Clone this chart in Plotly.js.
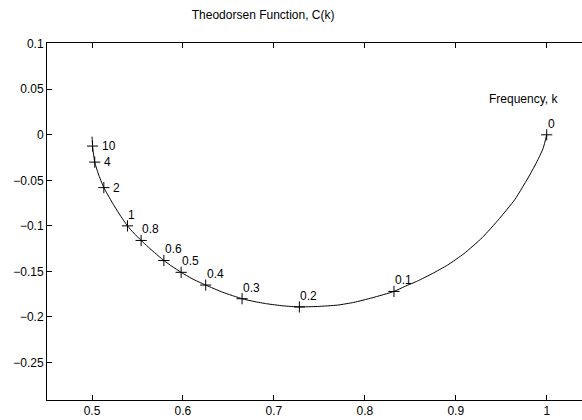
<!DOCTYPE html>
<html>
<head>
<meta charset="utf-8">
<script src="https://cdn.plot.ly/plotly-3.0.1.min.js"></script>
<style>html,body{margin:0;padding:0;background:#fff;}#chart{width:582px;height:420px;}</style>
</head>
<body>
<div id="chart"></div>
<script>
// Curve of C(k) = F + iG
var curveF = [1.0, 0.998, 0.996, 0.991, 0.982, 0.965, 0.948, 0.929, 0.909, 0.891, 0.874, 0.858, 0.844, 0.832,
  0.808, 0.788, 0.770, 0.748, 0.728, 0.710, 0.692, 0.678, 0.665, 0.644, 0.625, 0.610,
  0.598, 0.588, 0.579, 0.566, 0.554, 0.546, 0.539, 0.530, 0.522, 0.513, 0.507, 0.503, 0.5015,
  0.5006, 0.5002, 0.5];
var curveG = [0.0, -0.008, -0.015, -0.026, -0.043, -0.071, -0.092, -0.113, -0.1305, -0.143, -0.1525, -0.1605, -0.1665, -0.172,
  -0.179, -0.184, -0.187, -0.1885, -0.189, -0.1878, -0.1855, -0.183, -0.180, -0.173, -0.165, -0.158,
  -0.151, -0.1445, -0.138, -0.127, -0.116, -0.108, -0.100, -0.087, -0.074, -0.058, -0.043, -0.030, -0.020,
  -0.0124, -0.005, -0.002];

// Marked reduced frequencies
var kLabels = ['0', '0.1', '0.2', '0.3', '0.4', '0.5', '0.6', '0.8', '1', '2', '4', '10'];
var markF = [1.0, 0.832, 0.728, 0.665, 0.625, 0.598, 0.579, 0.554, 0.539, 0.513, 0.503, 0.5006];
var markG = [0.0, -0.172, -0.189, -0.180, -0.165, -0.151, -0.138, -0.116, -0.100, -0.058, -0.030, -0.0124];
var sideLabels = ['2', '4', '10'];

var xTicks = [0.5, 0.6, 0.7, 0.8, 0.9, 1];
var xTickText = ['0.5', '0.6', '0.7', '0.8', '0.9', '1'];
var yTicks = [0.1, 0.05, 0, -0.05, -0.1, -0.15, -0.2, -0.25];
var yTickText = ['0.1', '0.05', '0', '\u22120.05', '\u22120.1', '\u22120.15', '\u22120.2', '\u22120.25'];

var FONT = 'Liberation Sans, Arial, Helvetica, sans-serif';

var traces = [
  {x: curveF, y: curveG, type: 'scatter', mode: 'lines',
   line: {color: '#000', width: 1, shape: 'spline', smoothing: 0.5}, hoverinfo: 'skip'},
  {x: markF, y: markG, type: 'scatter', mode: 'markers',
   marker: {symbol: 'cross-thin', size: 8, color: '#000', line: {color: '#000', width: 1}}}
];

var annotations = kLabels.map(function (t, i) {
  var side = sideLabels.indexOf(t) >= 0;
  return {
    x: markF[i], y: markG[i], xref: 'x', yref: 'y', text: t, showarrow: false,
    xanchor: 'left', yanchor: side ? 'middle' : 'bottom',
    xshift: side ? 8 : 0, yshift: side ? 0 : 3, borderpad: 0,
    font: {family: FONT, size: 12, color: '#000'}
  };
});
annotations.push({
  x: 0.974, y: 0.039, xref: 'x', yref: 'y', text: 'Frequency, k', showarrow: false,
  xanchor: 'center', yanchor: 'middle', borderpad: 0,
  font: {family: FONT, size: 12, color: '#000'}
});

var layout = {
  width: 582, height: 420,
  margin: {l: 46.7, r: 0, t: 43.3, b: 20, pad: 0},
  paper_bgcolor: '#fff', plot_bgcolor: '#fff',
  showlegend: false,
  font: {family: FONT, size: 12, color: '#000'},
  title: {text: 'Theodorsen Function, C(k)', font: {family: FONT, size: 12, color: '#000'},
          x: 0.404, xref: 'paper', xanchor: 'center', y: 0.964, yref: 'container', yanchor: 'middle'},
  xaxis: {range: [0.4505, 1.0388], tickvals: xTicks, ticktext: xTickText,
          showgrid: false, zeroline: false, showline: true, linecolor: '#000', linewidth: 1,
          mirror: 'ticks', ticks: 'inside', ticklen: 5, tickcolor: '#000', tickwidth: 1,
          tickfont: {family: FONT, size: 12, color: '#000'}},
  yaxis: {range: [-0.2912, 0.1008], tickvals: yTicks, ticktext: yTickText,
          showgrid: false, zeroline: false, showline: true, linecolor: '#000', linewidth: 1,
          mirror: false, ticks: 'inside', ticklen: 5, tickcolor: '#000', tickwidth: 1,
          tickfont: {family: FONT, size: 12, color: '#000'}},
  annotations: annotations
};

Plotly.newPlot('chart', traces, layout, {displayModeBar: false, staticPlot: true});
</script>
</body>
</html>
